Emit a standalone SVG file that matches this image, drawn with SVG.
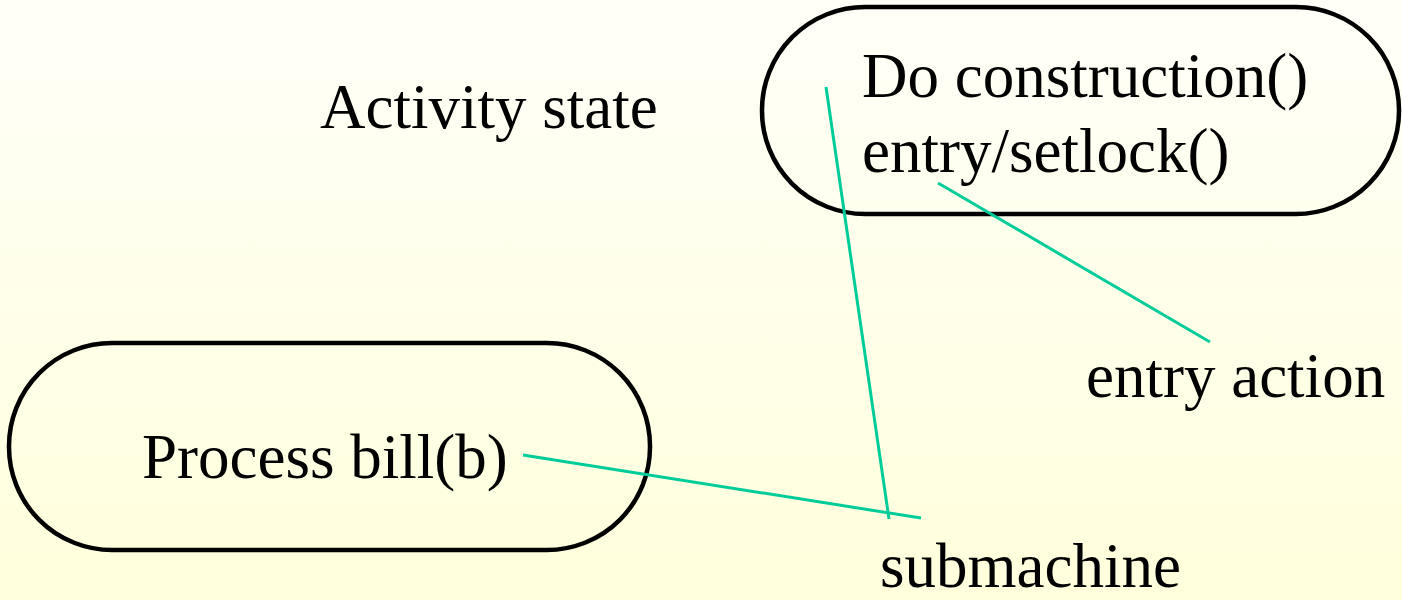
<svg xmlns="http://www.w3.org/2000/svg" width="1402" height="600" viewBox="0 0 1402 600">
  <defs>
    <linearGradient id="bg" x1="0" y1="0" x2="0" y2="1">
      <stop offset="0" stop-color="#fffff8"/>
      <stop offset="1" stop-color="#ffffdc"/>
    </linearGradient>
    <style>
      .state { fill: none; stroke: #000; stroke-width: 4.5; }
      .lbl { font-family: "Liberation Serif", "Times New Roman", serif; font-size: 63px; fill: #000; }
      .note { stroke: #00cc99; stroke-width: 3; fill: none; }
    </style>
  </defs>
  <rect x="0" y="0" width="1402" height="600" fill="url(#bg)"/>

  <text class="lbl" x="320" y="128">Activity state</text>

  <g id="do-construction">
    <rect class="state" x="762" y="7" width="637" height="207" rx="103" ry="103"/>
    <text class="lbl" x="862" y="97">Do construction()</text>
    <text class="lbl" x="862" y="172">entry/setlock()</text>
  </g>

  <g id="process-bill">
    <rect class="state" x="9" y="343" width="641" height="207" rx="103" ry="103"/>
    <text class="lbl" x="142" y="478">Process bill(b)</text>
  </g>

  <g id="entry-action-label">
    <text class="lbl" x="1086" y="397">entry action</text>
  </g>

  <g id="submachine-label">
    <text class="lbl" x="880" y="587">submachine</text>
  </g>

  <g id="connectors">
    <line class="note" x1="826" y1="87" x2="889" y2="519"/>
    <line class="note" x1="938" y1="183" x2="1210" y2="342"/>
    <line class="note" x1="523" y1="455" x2="921" y2="518"/>
  </g>
</svg>
